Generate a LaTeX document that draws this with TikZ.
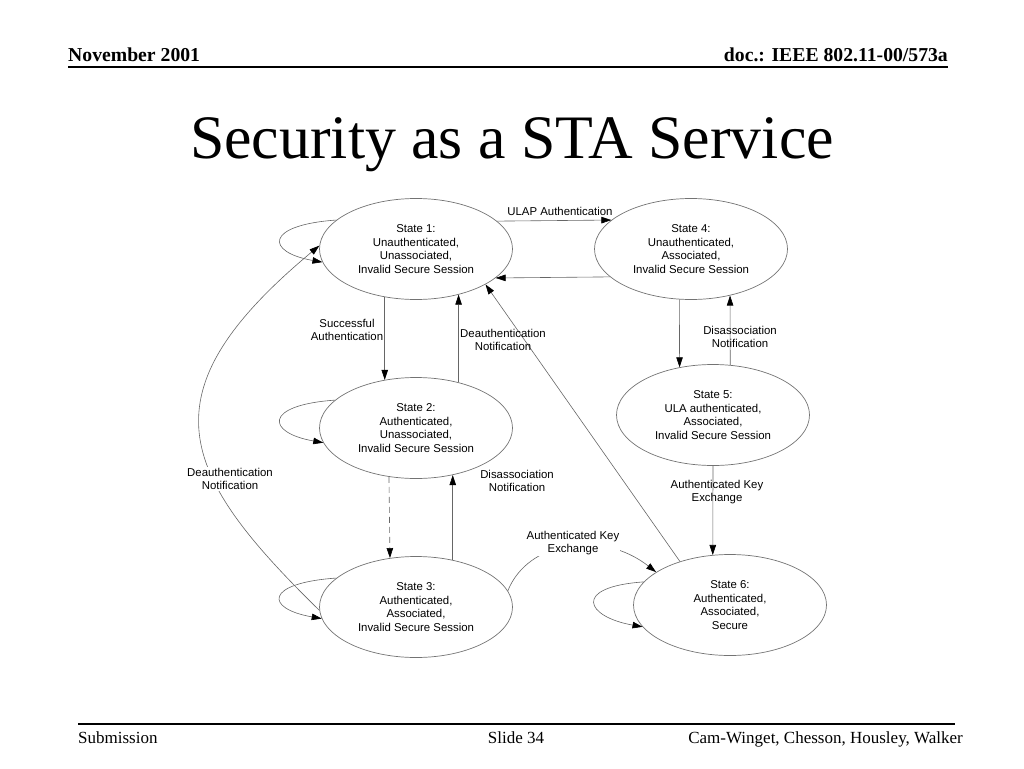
\documentclass[tikz,border=0pt]{standalone}
\usepackage{fontspec}
\setmainfont{Liberation Serif}
\newfontfamily\arialf{Liberation Sans}
\usetikzlibrary{shapes.geometric,arrows.meta}
\begin{document}
\begin{tikzpicture}[x=1pt,y=-1pt,
  state/.style={ellipse,draw=black!55,line width=0.7pt,minimum width=193pt,minimum height=101pt,inner sep=0pt,align=center,font=\arialf\fontsize{11.4}{13.8}\selectfont},
  lbl/.style={align=center,inner sep=1pt,font=\arialf\fontsize{11.4}{13.8}\selectfont},
  conn/.style={draw=black!60,line width=0.6pt,-{Triangle[length=10pt,width=6.5pt,color=black]}},
  loopc/.style={conn},
  hdr/.style={inner sep=0pt,font=\fontsize{19.7}{22}\selectfont\bfseries},
  ftr/.style={inner sep=0pt,font=\fontsize{17}{19}\selectfont}]
\useasboundingbox (0,0) rectangle (1024,768);
% header and footer
\node[hdr,anchor=base west] (hl) at (68,62) {November 2001};
\node[hdr,anchor=base east] (hr) at (948,62) {doc.: IEEE 802.11-00/573a};
\draw[line width=1.6pt] (68,67) -- (948,67);
\node[anchor=base,inner sep=0pt,font=\fontsize{61.8}{70}\selectfont] (title) at (512,158) {Security as a STA Service};
\draw[line width=1.4pt] (78,724) -- (955,724);
\node[ftr,anchor=base west] (fl) at (78,743) {Submission};
\node[ftr,anchor=base] (fc) at (516,743) {Slide 34};
\node[ftr,anchor=base east] (fr) at (963,743) {Cam-Winget, Chesson, Housley, Walker};
% states
\node[state] (s1) at (416,249) {State 1:\\Unauthenticated,\\Unassociated,\\Invalid Secure Session};
\node[state] (s4) at (691,249) {State 4:\\Unauthenticated,\\Associated,\\Invalid Secure Session};
\node[state] (s2) at (416,428) {State 2:\\Authenticated,\\Unassociated,\\Invalid Secure Session};
\node[state] (s5) at (713,415) {State 5:\\ULA authenticated,\\Associated,\\Invalid Secure Session};
\node[state] (s3) at (416,607) {State 3:\\Authenticated,\\Associated,\\Invalid Secure Session};
\node[state] (s6) at (730,605) {State 6:\\Authenticated,\\Associated,\\Secure};
% self loops
\draw[loopc] (s1.160) .. controls +(-72,5) and +(-57,-10) .. (s1.188);
\draw[loopc] (s2.161) .. controls +(-72,5) and +(-57,-10) .. (s2.189);
\draw[loopc] (s3.160) .. controls +(-72,5) and +(-57,-10) .. (s3.187);
\draw[loopc] (s6.165) .. controls +(-72,5) and +(-57,-10) .. (s6.194);
% transitions
\draw[conn] (s1.19.4) -- (s4.160.6);
\draw[conn] (s4.199.4) -- (s1.340.6);
\draw[conn] (s1.237) -- (s2.123);
\draw[conn] (s2.47) -- (s1.313);
\draw[conn,dash pattern=on 6pt off 4pt] (s2.241.6) -- (s3.118.4);
\draw[conn] (s3.52) -- (s2.308);
\draw[conn] (s4.257.5) -- (s5.125);
\draw[conn] (s5.71) -- (s4.310.5);
\draw[conn] (s5.south) -- (s6.109);
\draw[conn] (s6.139.3) -- (s1.333.8);
\draw[conn] (s3.10.3) .. controls +(20,-50) and +(-55,-43) .. (s6.156.9);
\draw[conn] (s3.182) .. controls +(-140,-137) and +(-178,148) .. (s1.178);
% labels
\node[lbl] (l1) at (560,211) {ULAP Authentication};
\node[lbl] (l2) at (347,330) {Successful\\Authentication};
\node[lbl] (l3) at (503,340) {Deauthentication\\Notification};
\node[lbl] (l4) at (740,337) {Disassociation\\Notification};
\node[lbl,fill=white] (l5) at (230,479) {Deauthentication\\Notification};
\node[lbl] (l6) at (517,481) {Disassociation\\Notification};
\node[lbl] (l7) at (717,492) {Authenticated Key\\Exchange};
\node[lbl,fill=white,inner sep=0.5pt] (l8) at (573,543) {Authenticated Key\\Exchange};
\end{tikzpicture}
\end{document}
